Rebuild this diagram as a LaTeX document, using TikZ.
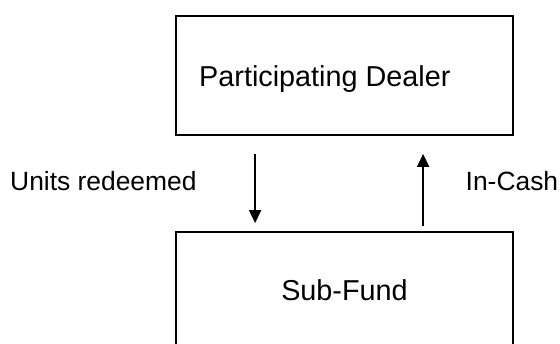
\documentclass[tikz,border=0pt]{standalone}
\usepackage{fontspec}
\setmainfont{Liberation Sans}
\usetikzlibrary{arrows.meta}
\begin{document}
\begin{tikzpicture}[x=1pt,y=-1pt,
  box/.style={draw=black,line width=1.8pt,minimum width=337pt,inner sep=0pt},
  boxtext/.style={inner sep=0pt,font=\fontsize{28.8}{34}\selectfont},
  lbl/.style={inner sep=0pt,anchor=base west,font=\fontsize{26.4}{32}\selectfont},
  arr/.style={line width=1.8pt,-{Triangle[width=12pt,length=13pt]}}]
\useasboundingbox (0,0) rectangle (560,344);
\clip (0,0) rectangle (560,344);
\node[box,minimum height=119pt] (pd) at (344.5,75.5) {};
\node[box,minimum height=120pt] (sf) at (344.5,292) {};
\node[boxtext,anchor=base west] (pdt) at (199,87) {Participating Dealer};
\node[boxtext,anchor=base] (sft) at (344.5,301) {Sub-Fund};
\node[lbl] (ur) at (10,191) {Units redeemed};
\node[lbl] (ic) at (465.5,191) {In-Cash};
\draw[arr] ([xshift=80pt,yshift=-18pt]pd.south west) -- ([xshift=80pt,yshift=8pt]sf.north west);
\draw[arr] ([xshift=248pt,yshift=5pt]sf.north west) -- ([xshift=248pt,yshift=-18pt]pd.south west);
\end{tikzpicture}
\end{document}
